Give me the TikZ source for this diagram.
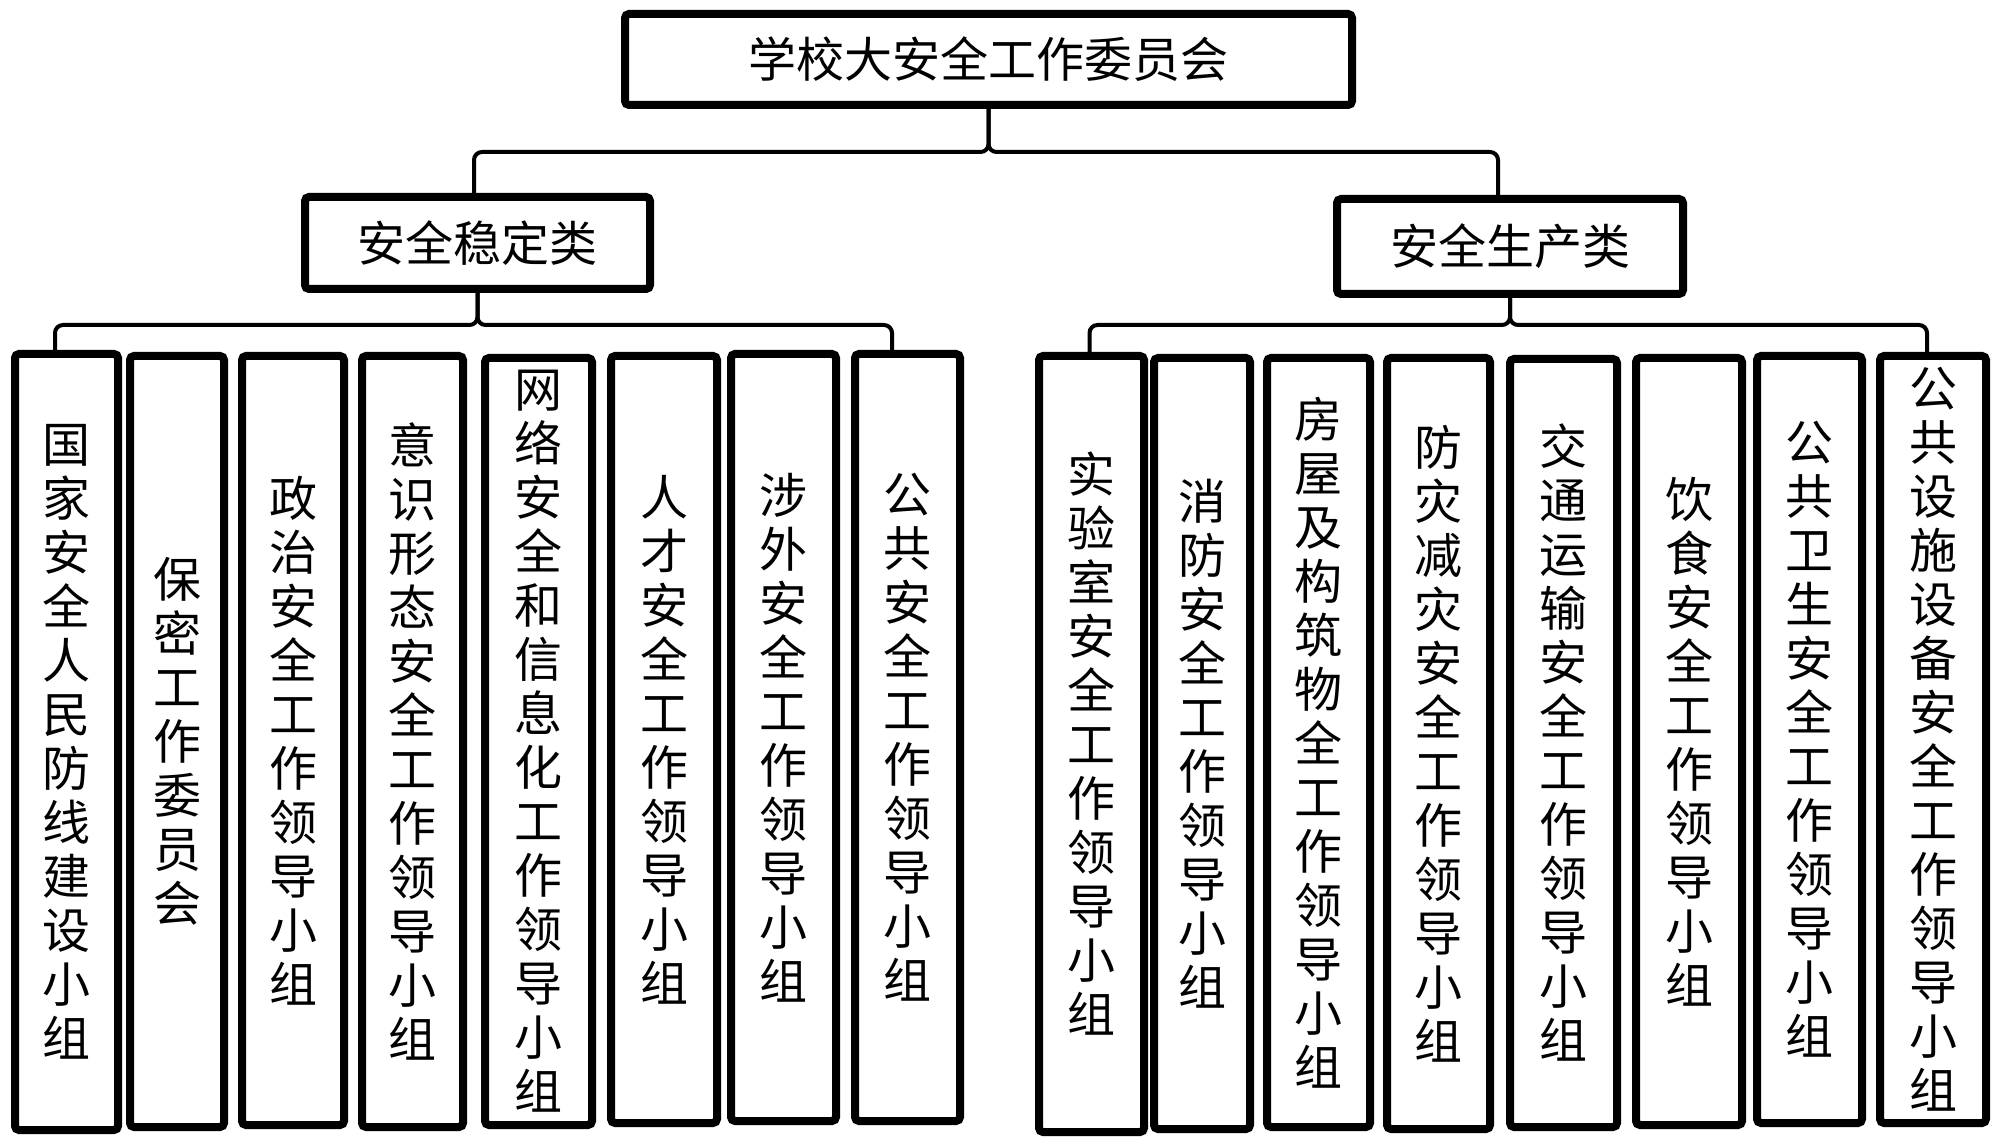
\documentclass[tikz,border=0pt]{standalone}
\usepackage{fontspec}
\setmainfont{Noto Sans CJK SC}
\tikzset{
  box/.style={draw=black, line width=4pt, rounded corners=2pt, fill=white, inner sep=0pt,
    align=center, font=\fontsize{24}{27}\selectfont},
  conn/.style={draw=black, line width=2pt, rounded corners=4pt},
}
\newcommand\pxbox[6]{%
  \node[box, minimum width={(#4-#2-8)*0.5pt}, minimum height={(#5-#3-8)*0.5pt}]
    (#1) at ({(#2+#4)/2},{(#3+#5)/2}) {#6};}
\begin{document}
\begin{tikzpicture}[x=0.5pt, y=-0.5pt]
\useasboundingbox (0,0) rectangle (2000,1143);
\pxbox{top}{621}{10}{1356}{109}{学校大安全工作委员会}
\pxbox{ml}{301}{193}{654}{293}{安全稳定类}
\pxbox{mr}{1333}{195}{1687}{298}{安全生产类}
% left group
\pxbox{L1}{11}{350}{122}{1134}{国\\家\\安\\全\\人\\民\\防\\线\\建\\设\\小\\组}
\pxbox{L2}{126}{352}{228}{1131}{保\\密\\工\\作\\委\\员\\会}
\pxbox{L3}{238}{352}{348}{1129}{政\\治\\安\\全\\工\\作\\领\\导\\小\\组}
\pxbox{L4}{358}{352}{467}{1131}{意\\识\\形\\态\\安\\全\\工\\作\\领\\导\\小\\组}
\pxbox{L5}{481}{354}{596}{1129}{网\\络\\安\\全\\和\\信\\息\\化\\工\\作\\领\\导\\小\\组}
\pxbox{L6}{607}{352}{721}{1127}{人\\才\\安\\全\\工\\作\\领\\导\\小\\组}
\pxbox{L7}{727}{350}{840}{1125}{涉\\外\\安\\全\\工\\作\\领\\导\\小\\组}
\pxbox{L8}{851}{350}{964}{1125}{公\\共\\安\\全\\工\\作\\领\\导\\小\\组}
% right group
\pxbox{R1}{1035}{352}{1148}{1136}{实\\验\\室\\安\\全\\工\\作\\领\\导\\小\\组}
\pxbox{R2}{1150}{354}{1254}{1133}{消\\防\\安\\全\\工\\作\\领\\导\\小\\组}
\pxbox{R3}{1263}{354}{1374}{1131}{房\\屋\\及\\构\\筑\\物\\全\\工\\作\\领\\导\\小\\组}
\pxbox{R4}{1383}{354}{1494}{1133}{防\\灾\\减\\灾\\安\\全\\工\\作\\领\\导\\小\\组}
\pxbox{R5}{1506}{355}{1621}{1131}{交\\通\\运\\输\\安\\全\\工\\作\\领\\导\\小\\组}
\pxbox{R6}{1632}{354}{1746}{1129}{饮\\食\\安\\全\\工\\作\\领\\导\\小\\组}
\pxbox{R7}{1753}{352}{1866}{1127}{公\\共\\卫\\生\\安\\全\\工\\作\\领\\导\\小\\组}
\pxbox{R8}{1876}{352}{1990}{1127}{公\\共\\设\\施\\设\\备\\安\\全\\工\\作\\领\\导\\小\\组}
% connectors
\coordinate (j0) at (988.5,152);
\coordinate (jl) at (477.5,325);
\coordinate (jr) at (1510,325);
\draw[conn] ([xshift=-1.75pt]ml.north) |- (j0) -- (top.south);
\draw[conn] ([xshift=-6pt]mr.north) |- (j0) -- (top.south);
\draw[conn] ([xshift=-5.75pt]L1.north) |- (jl) -- (ml.south);
\draw[conn] ([xshift=-7.75pt]L8.north) |- (jl) -- (ml.south);
\draw[conn] ([xshift=-1pt]R1.north) |- (jr) -- (mr.south);
\draw[conn] ([xshift=-3pt]R8.north) |- (jr) -- (mr.south);
\end{tikzpicture}
\end{document}
